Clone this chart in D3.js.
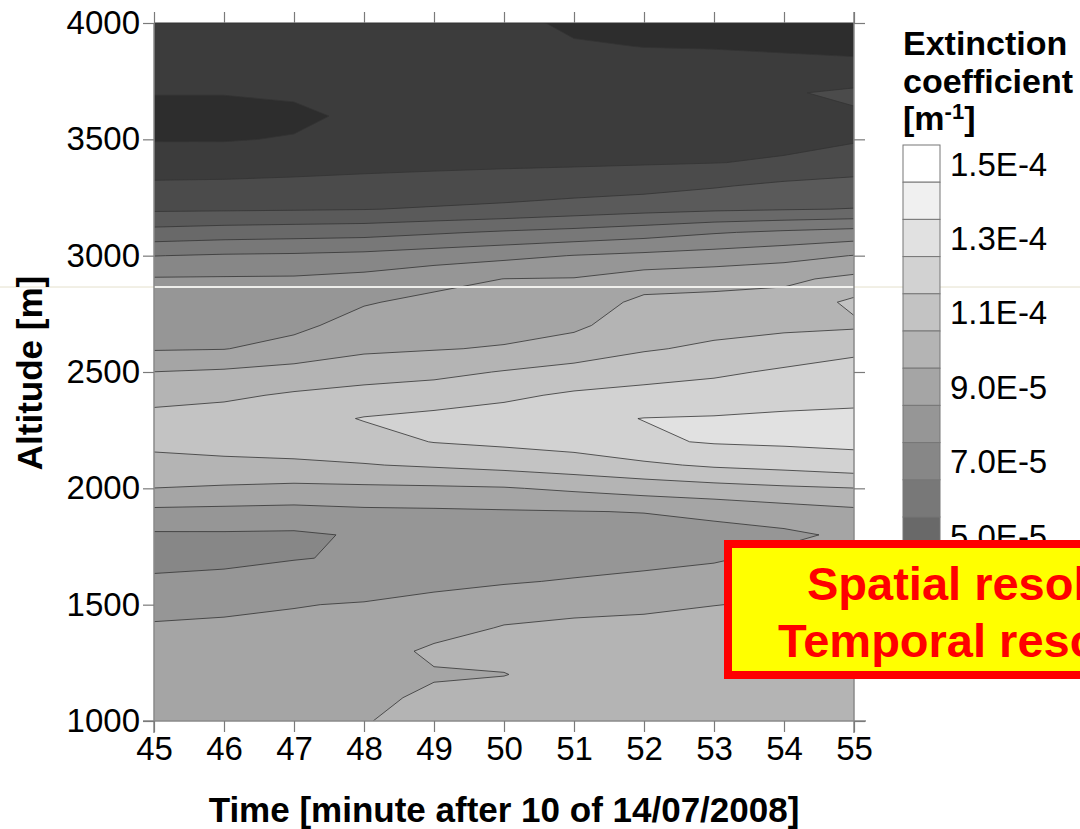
<!DOCTYPE html>
<html lang="en">
<head>
<meta charset="UTF-8" />
<title>Extinction coefficient</title>
<script src="https://d3js.org/d3.v7.min.js"></script>
<style>
  body { margin: 0; background: #fff; font-family: "Liberation Sans", Arial, sans-serif; }
  svg { display: block; }
  .tick text { font-family: "Liberation Sans", Arial, sans-serif; fill: #000; }
</style>
</head>
<body>
<svg id="chart" width="1080" height="829"></svg>
<script>
// minutes after 10:00 on 14/07/2008
const times = [45, 46, 47, 48, 49, 50, 51, 52, 53, 54, 55];
// altitude of each grid row [m], top row first
const altitudes = [4000, 3900, 3800, 3700, 3600, 3500, 3400, 3300, 3200, 3100, 3000,
                   2900, 2800, 2700, 2600, 2500, 2400, 2300, 2200, 2100, 2000,
                   1900, 1800, 1700, 1600, 1500, 1400, 1300, 1200, 1100, 1000];
// extinction coefficient in 1E-5 m-1, one row per altitude, one value per minute
const extinction = [
  [2.6, 2.6, 2.6, 2.6, 2.6, 2.3, 1.8, 1.7, 1.7, 1.7, 1.6],
  [2.5, 2.5, 2.5, 2.55, 2.55, 2.5, 2.1, 1.98, 1.95, 1.9, 1.8],
  [2.3, 2.3, 2.35, 2.45, 2.5, 2.5, 2.4, 2.4, 2.35, 2.25, 2.25],
  [2.05, 2.05, 2.13, 2.35, 2.45, 2.5, 2.5, 2.5, 2.5, 2.9, 3.2],
  [1.58, 1.58, 1.8, 2.2, 2.4, 2.5, 2.55, 2.6, 2.6, 2.75, 2.85],
  [1.94, 1.94, 2.06, 2.35, 2.45, 2.55, 2.6, 2.65, 2.7, 2.8, 2.9],
  [2.53, 2.54, 2.63, 2.75, 2.81, 2.86, 2.89, 2.93, 2.98, 3.09, 3.5],
  [3.15, 3.18, 3.23, 3.27, 3.33, 3.39, 3.48, 3.62, 3.91, 4.22, 4.32],
  [3.85, 3.88, 3.92, 3.97, 4.09, 4.23, 4.47, 4.68, 4.84, 4.94, 5.03],
  [5.34, 5.49, 5.57, 5.64, 5.88, 6.12, 6.31, 6.57, 6.92, 7.17, 7.38],
  [6.98, 7.1, 7.15, 7.27, 7.51, 7.74, 8.03, 8.22, 8.41, 8.65, 9.03],
  [8.08, 8.1, 8.12, 8.3, 8.68, 9.01, 9.05, 9.5, 9.64, 9.81, 10.24],
  [8.36, 8.39, 8.45, 8.92, 9.25, 9.34, 9.43, 10.24, 10.3, 10.36, 11.2],
  [8.64, 8.68, 8.77, 9.39, 9.6, 9.68, 9.81, 10.57, 10.7, 10.8, 10.85],
  [8.92, 8.97, 9.34, 9.84, 9.95, 10.07, 10.45, 10.91, 11.17, 11.43, 11.8],
  [10.01, 10.14, 10.36, 10.54, 10.72, 11.06, 11.34, 11.61, 11.83, 12.14, 12.35],
  [10.67, 10.83, 11.12, 11.37, 11.55, 11.81, 12.15, 12.32, 12.47, 12.67, 12.77],
  [11.3, 11.42, 11.64, 12.05, 12.24, 12.43, 12.79, 13.02, 13.07, 13.15, 13.19],
  [11.28, 11.41, 11.49, 11.65, 12.03, 12.2, 12.36, 12.85, 13.08, 13.16, 13.23],
  [10.64, 10.75, 10.82, 10.95, 11.12, 11.32, 11.57, 11.83, 12.14, 12.32, 12.56],
  [9.99, 9.88, 9.77, 9.82, 9.86, 9.93, 10.17, 10.45, 10.65, 10.84, 10.98],
  [8.79, 8.74, 8.69, 8.82, 8.86, 8.92, 8.97, 9.03, 9.25, 9.54, 9.79],
  [7.87, 7.88, 7.85, 8.1, 8.49, 8.51, 8.53, 8.57, 8.64, 8.8, 9.2],
  [7.65, 7.75, 7.95, 8.12, 8.48, 8.51, 8.61, 8.7, 8.88, 9.26, 9.4],
  [8.18, 8.28, 8.5, 8.64, 8.83, 8.92, 9.07, 9.25, 9.44, 9.66, 9.75],
  [8.73, 8.85, 8.97, 9.05, 9.2, 9.53, 9.73, 9.86, 9.99, 10.06, 10.1],
  [9.1, 9.13, 9.15, 9.25, 9.6, 10.07, 10.2, 10.2, 10.2, 10.25, 10.3],
  [9.3, 9.3, 9.3, 9.5, 10.2, 10.3, 10.4, 10.4, 10.4, 10.4, 10.4],
  [9.35, 9.35, 9.35, 9.6, 9.9, 9.97, 10.4, 10.45, 10.45, 10.45, 10.45],
  [9.4, 9.4, 9.4, 9.75, 10.2, 10.4, 10.45, 10.5, 10.5, 10.5, 10.5],
  [9.4, 9.4, 9.45, 9.97, 10.2, 10.45, 10.5, 10.5, 10.5, 10.5, 10.5]
];
// contour levels in 1E-5 m-1
const levels = [1, 2, 3, 4, 5, 6, 7, 8, 9, 10, 11, 12, 13, 14, 15];
const altTicks = [1000, 1500, 2000, 2500, 3000, 3500, 4000];
// legend shows the top part of the scale, the rest sits under the note box
const legendLevels = [15, 14, 13, 12, 11, 10, 9, 8, 7, 6, 5, 4];
const legendLabels = [15, 13, 11, 9, 7, 5];

const svg = d3.select("#chart");
const font = '"Liberation Sans", Arial, sans-serif';

const x = d3.scaleLinear().domain([45, 55]).range([154, 854]);
const y = d3.scaleLinear().domain([1000, 4000]).range([721, 23]);
const gray = d3.scaleLinear().domain([1, 15]).range(["#2d2d2d", "#ffffff"]);

// grid index -> time / altitude
const col = d3.scaleLinear().domain([0, times.length - 1]).range([times[0], times[times.length - 1]]);
const row = d3.scaleLinear().domain([0, altitudes.length - 1]).range([altitudes[0], altitudes[altitudes.length - 1]]);

const contours = d3.contours()
    .size([times.length, altitudes.length])
    .thresholds(levels)(extinction.flat());

// contour samples sit at cell centres, hence the -0.5
const proj = d3.geoTransform({
  point(px, py) { this.stream.point(x(col(px - 0.5)), y(row(py - 0.5))); }
});
const path = d3.geoPath(proj);

svg.append("clipPath").attr("id", "plotclip")
  .append("rect").attr("x", 154).attr("y", 23).attr("width", 700).attr("height", 698);

const plot = svg.append("g").attr("clip-path", "url(#plotclip)");
plot.append("rect").attr("x", 154).attr("y", 23).attr("width", 700).attr("height", 698)
  .attr("fill", gray(1));
plot.selectAll("path")
  .data(contours)
  .join("path")
    .attr("d", path)
    .attr("fill", d => gray(d.value))
    .attr("stroke", "#333")
    .attr("stroke-width", 0.8)
    .attr("stroke-linejoin", "round");

// slide artefact: thin white rule across the plot
svg.append("line").attr("x1", 0).attr("x2", 1080).attr("y1", 287).attr("y2", 287)
  .attr("stroke", "#e4e0cc").attr("stroke-width", 1);
svg.append("line").attr("x1", 154).attr("x2", 854).attr("y1", 287).attr("y2", 287)
  .attr("stroke", "#fff").attr("stroke-width", 1.5);

// frame
svg.append("line").attr("x1", 154).attr("x2", 854).attr("y1", 23).attr("y2", 23)
  .attr("stroke", "#333").attr("stroke-width", 1);
const frame = [[154, 23, 154, 733], [143, 721, 866, 721], [854, 12, 854, 733]];
svg.selectAll("line.frame").data(frame).join("line")
  .attr("class", "frame")
  .attr("x1", d => d[0]).attr("y1", d => d[1]).attr("x2", d => d[2]).attr("y2", d => d[3])
  .attr("stroke", "#8a8a8a").attr("stroke-width", 1.5);

function styleAxis(g, size) {
  g.select(".domain").remove();
  g.selectAll(".tick line").attr("stroke", "#7a7a7a").attr("stroke-width", 1.2);
  g.selectAll(".tick text").style("font-size", size + "px").style("font-family", font);
}

svg.append("g").attr("transform", "translate(154,0)")
  .call(d3.axisLeft(y).tickValues(altTicks).tickSize(11).tickPadding(3).tickFormat(d3.format("d")))
  .call(g => styleAxis(g, 33));
svg.append("g").attr("transform", "translate(854,0)")
  .call(d3.axisRight(y).tickValues(altTicks).tickSize(11).tickFormat(""))
  .call(g => styleAxis(g, 33));
svg.append("g").attr("transform", "translate(0,721)")
  .call(d3.axisBottom(x).tickValues(times).tickSize(11).tickPadding(5).tickFormat(d3.format("d")))
  .call(g => styleAxis(g, 33));
svg.append("g").attr("transform", "translate(0,23)")
  .call(d3.axisTop(x).tickValues(times).tickSize(11).tickFormat(""))
  .call(g => styleAxis(g, 33));

// axis titles
svg.append("text")
  .attr("x", 504).attr("y", 822)
  .attr("text-anchor", "middle")
  .attr("font-family", font).attr("font-weight", "bold").attr("font-size", 35)
  .text("Time [minute after 10 of 14/07/2008]");
svg.append("text")
  .attr("transform", "translate(42,373) rotate(-90)")
  .attr("text-anchor", "middle")
  .attr("font-family", font).attr("font-weight", "bold").attr("font-size", 35)
  .text("Altitude [m]");

// legend
const lg = svg.append("g");
const boxX = 903, boxW = 37, boxTop = 145, boxH = 37.2;
lg.selectAll("rect")
  .data(legendLevels)
  .join("rect")
    .attr("x", boxX).attr("y", (d, i) => boxTop + i * boxH)
    .attr("width", boxW).attr("height", boxH)
    .attr("fill", d => gray(d))
    .attr("stroke", "#777").attr("stroke-width", 1);
lg.selectAll("text.lab")
  .data(legendLabels)
  .join("text")
    .attr("class", "lab")
    .attr("x", 950)
    .attr("y", d => boxTop + legendLevels.indexOf(d) * boxH + boxH / 2 + 12)
    .attr("font-family", font).attr("font-size", 33)
    .text(d => d3.format(".1e")(d * 1e-5).toUpperCase());

const title = lg.append("text").attr("font-family", font).attr("font-weight", "bold").attr("font-size", 34);
title.append("tspan").attr("x", 903).attr("y", 55).text("Extinction");
title.append("tspan").attr("x", 903).attr("y", 93).text("coefficient");
title.append("tspan").attr("x", 903).attr("y", 130).text("[m");
title.append("tspan").attr("dy", -11).attr("font-size", 22).text("-1");
title.append("tspan").attr("dy", 11).text("]");

// highlighted note (runs off the right edge, as on the slide)
svg.append("rect").attr("x", 728).attr("y", 544).attr("width", 420).attr("height", 131)
  .attr("fill", "#ffff00").attr("stroke", "#ff0000").attr("stroke-width", 8);
svg.append("text").attr("x", 807).attr("y", 600)
  .attr("font-family", font).attr("font-weight", "bold").attr("font-size", 47).attr("fill", "#ff0000")
  .text("Spatial resolution");
svg.append("text").attr("x", 778).attr("y", 657)
  .attr("font-family", font).attr("font-weight", "bold").attr("font-size", 47).attr("fill", "#ff0000")
  .text("Temporal resolution");
</script>
</body>
</html>
